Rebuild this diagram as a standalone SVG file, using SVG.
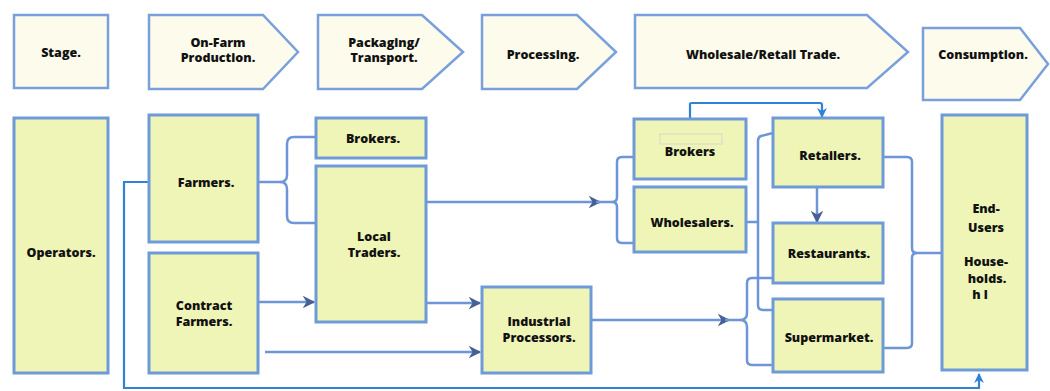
<svg xmlns="http://www.w3.org/2000/svg" width="1050" height="391" viewBox="0 0 1050 391">
  <style>
    .stage { fill: #fdfcec; stroke: #7aa0dc; stroke-width: 2.5; }
    .node { fill: #eef5b7; stroke: #6f9ad8; stroke-width: 3; }
    .lbl { font-family: "Open Sans", "Liberation Sans", sans-serif; font-weight: 800; font-size: 12.5px; fill: #111; text-anchor: middle; }
    .edge { fill: none; stroke: #6d95d8; stroke-width: 2.5; }
    .bright { fill: none; stroke: #2f82d6; stroke-width: 2.2; }
    .tag { fill: none; stroke: #d8d8d0; stroke-width: 1; }
  </style>
  <defs>
    <marker id="arr" viewBox="0 0 10 10" refX="9" refY="5" markerWidth="5" markerHeight="5" orient="auto" markerUnits="strokeWidth">
      <path d="M0,0 L10,5 L0,10 L3,5 z" fill="#465f94"/>
    </marker>
    <marker id="arrB" viewBox="0 0 10 10" refX="9" refY="5" markerWidth="4.5" markerHeight="4.5" orient="auto" markerUnits="strokeWidth">
      <path d="M0,0 L10,5 L0,10 L3,5 z" fill="#2f82d6"/>
    </marker>
  </defs>

  <rect width="1050" height="391" fill="#ffffff"/>

  <!-- stage header row -->
  <g id="stage-label">
    <rect class="stage" x="14" y="15" width="94" height="73"/>
    <text class="lbl" x="61" y="57">Stage.</text>
  </g>
  <g id="stage-onfarm">
    <path class="stage" d="M149,15 H263 L298,52 L263,89 H149 Z"/>
    <text class="lbl" x="218" y="47">On-Farm</text>
    <text class="lbl" x="218" y="62">Production.</text>
  </g>
  <g id="stage-packaging">
    <path class="stage" d="M318,15 H422 L463,52 L422,89 H318 Z"/>
    <text class="lbl" x="384" y="47">Packaging/</text>
    <text class="lbl" x="384" y="62">Transport.</text>
  </g>
  <g id="stage-processing">
    <path class="stage" d="M482,15 H577 L616,52 L577,89 H482 Z"/>
    <text class="lbl" x="543" y="59">Processing.</text>
  </g>
  <g id="stage-trade">
    <path class="stage" d="M635,15 H867 L908,52 L867,88 H635 Z"/>
    <text class="lbl" x="763" y="59">Wholesale/Retail Trade.</text>
  </g>
  <g id="stage-consumption">
    <path class="stage" d="M923,28 H1020 L1048,64 L1020,100 H923 Z"/>
    <text class="lbl" x="983" y="59">Consumption.</text>
  </g>

  <!-- connectors -->
  <g id="connectors">
    <!-- farmers down the left side and along the bottom to end-users -->
    <path class="bright" d="M149,182 H124 V388 H979 V374" marker-end="url(#arrB)"/>
    <!-- farmers brace to brokers / local traders -->
    <path class="edge" d="M258,182 H280 Q287,182 287,175 V144 Q287,137 294,137 H316"/>
    <path class="edge" d="M280,182 Q287,182 287,189 V216 Q287,223 294,223 H316"/>
    <!-- contract farmers -->
    <path class="edge" d="M258,302 H314" marker-end="url(#arr)"/>
    <path class="edge" d="M265,352 H480" marker-end="url(#arr)"/>
    <!-- local traders to industrial processors -->
    <path class="edge" d="M426,303 H480" marker-end="url(#arr)"/>
    <!-- local traders to brokers / wholesalers -->
    <path class="edge" d="M426,202 H600" marker-end="url(#arr)"/>
    <path class="edge" d="M596,202 H612 Q617,202 617,197 V162 Q617,157 622,157 H634"/>
    <path class="edge" d="M612,202 Q617,202 617,207 V238 Q617,243 622,243 H634"/>
    <!-- brokers over the top to retailers -->
    <path class="bright" d="M690,119 V104 Q690,103 692,103 H820 Q822,103 822,105 V117" marker-end="url(#arrB)"/>
    <!-- wholesalers brace to retailers / supermarket -->
    <path class="edge" d="M746,222 H758"/>
    <path class="edge" d="M773,133 L761,136 Q758,137 758,141 V305 Q758,310 763,310 H773"/>
    <!-- industrial processors to restaurants / supermarket -->
    <path class="edge" d="M591,320 H729" marker-end="url(#arr)"/>
    <path class="edge" d="M725,320 H740 Q747,320 747,313 V283 Q747,278 752,278 H773"/>
    <path class="edge" d="M740,320 Q747,320 747,327 V360 Q747,365 752,365 H773"/>
    <!-- retailers to restaurants -->
    <path class="edge" d="M817,187 V222" marker-end="url(#arr)"/>
    <!-- retail outlets brace to end-users -->
    <path class="edge" d="M883,157 H907 Q912,157 912,162 V248 Q912,253 917,253 H942"/>
    <path class="edge" d="M883,348 H907 Q912,348 912,343 V258 Q912,253 917,253"/>
  </g>

  <!-- actor nodes -->
  <g id="operators">
    <rect class="node" x="14" y="118" width="94" height="255"/>
    <text class="lbl" x="61" y="257">Operators.</text>
  </g>
  <g id="farmers">
    <rect class="node" x="149" y="115" width="109" height="127"/>
    <text class="lbl" x="206" y="187">Farmers.</text>
  </g>
  <g id="contract-farmers">
    <rect class="node" x="149" y="253" width="109" height="120"/>
    <text class="lbl" x="204" y="310">Contract</text>
    <text class="lbl" x="204" y="326">Farmers.</text>
  </g>
  <g id="brokers-local">
    <rect class="node" x="316" y="118" width="110" height="40"/>
    <text class="lbl" x="373" y="143">Brokers.</text>
  </g>
  <g id="local-traders">
    <rect class="node" x="316" y="166" width="110" height="156"/>
    <text class="lbl" x="374" y="241">Local</text>
    <text class="lbl" x="374" y="257">Traders.</text>
  </g>
  <g id="industrial-processors">
    <rect class="node" x="482" y="287" width="109" height="86"/>
    <text class="lbl" x="539" y="326">Industrial</text>
    <text class="lbl" x="539" y="342">Processors.</text>
  </g>
  <g id="brokers-trade">
    <rect class="node" x="634" y="119" width="112" height="60"/>
    <rect class="tag" x="660" y="134" width="62" height="10"/>
    <text class="lbl" x="690" y="156">Brokers</text>
  </g>
  <g id="wholesalers">
    <rect class="node" x="634" y="187" width="112" height="65"/>
    <text class="lbl" x="692" y="227">Wholesalers.</text>
  </g>
  <g id="retailers">
    <rect class="node" x="773" y="118" width="110" height="69"/>
    <text class="lbl" x="830" y="160">Retailers.</text>
  </g>
  <g id="restaurants">
    <rect class="node" x="773" y="223" width="110" height="60"/>
    <text class="lbl" x="829" y="258">Restaurants.</text>
  </g>
  <g id="supermarket">
    <rect class="node" x="773" y="299" width="110" height="73"/>
    <text class="lbl" x="829" y="342">Supermarket.</text>
  </g>
  <g id="end-users">
    <rect class="node" x="942" y="115" width="85" height="255"/>
    <text class="lbl" x="986" y="213">End-</text>
    <text class="lbl" x="986" y="232">Users</text>
    <text class="lbl" x="986" y="266">House-</text>
    <text class="lbl" x="987" y="283">holds.</text>
    <text class="lbl" x="980" y="299">h  l</text>
  </g>
</svg>
